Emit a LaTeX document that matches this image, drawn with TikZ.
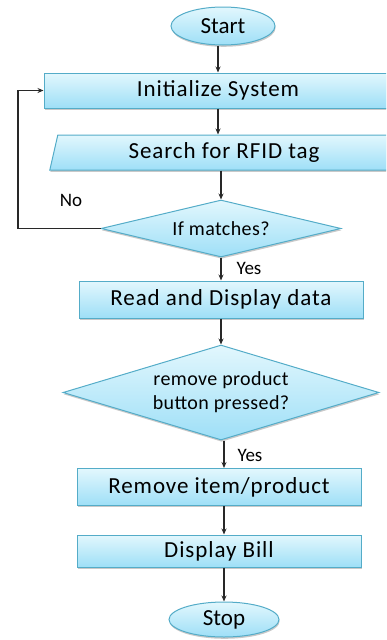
\documentclass[tikz,border=0pt]{standalone}
\usepackage{fontspec}
\setmainfont{Carlito}
\newfontfamily\procfont[LetterSpace=4]{Carlito}
\newfontfamily\decfont[LetterSpace=2]{Carlito}
\usetikzlibrary{shapes.geometric,arrows.meta,shadows,positioning}
\definecolor{boxtop}{RGB}{226,247,253}
\definecolor{boxbot}{RGB}{158,223,247}
\definecolor{boxline}{RGB}{84,172,200}
\definecolor{arrline}{RGB}{40,40,40}
\tikzset{
  flow/.style={draw=boxline,line width=1pt,top color=boxtop,bottom color=boxbot,
    drop shadow={shadow xshift=0.6pt,shadow yshift=-1.8pt,opacity=0.3,fill=black!70}},
  procbox/.style={flow,rectangle,minimum width=284pt,inner sep=0pt,font=\procfont\fontsize{23}{27}\selectfont},
  iobox/.style={flow,trapezium,trapezium left angle=77,trapezium right angle=103,
    trapezium stretches=true,inner sep=0pt,font=\procfont\fontsize{23}{27}\selectfont},
  termbox/.style={flow,ellipse,inner sep=0pt,font=\fontsize{23}{27}\selectfont},
  decbox/.style={flow,diamond,inner sep=0pt,align=center,font=\decfont\fontsize{20}{24}\selectfont},
  arr/.style={draw=arrline,line width=1.2pt,-{Stealth[length=6pt,width=5pt]}},
  lbl/.style={inner sep=0pt,font=\fontsize{19}{22}\selectfont}
}
\begin{document}
\begin{tikzpicture}[x=1pt,y=-1pt]
\useasboundingbox (0,0) rectangle (386,640);
\clip (0,0) rectangle (386,640);
\node[termbox,minimum width=104pt,minimum height=38pt] (start) at (223,26) {Start};
\node[procbox,minimum width=348pt,minimum height=35pt] (init) at (218,90.5) {Initialize System};
\node[iobox,minimum width=349pt,minimum height=35pt] (search) at (224,152.5) {Search for RFID tag};
\node[decbox,aspect=4.2,minimum width=240pt,minimum height=57pt] (match) at (221,228.5) {If matches?};
\node[procbox,minimum height=37pt] (read) at (221,299.5) {Read and Display data};
\node[decbox,aspect=3.3,minimum width=316pt,minimum height=95pt] (press) at (221,392.5) {remove product\\button pressed?};
\node[procbox,minimum height=37pt] (remove) at (219,487) {Remove item/product};
\node[procbox,minimum height=32pt] (bill) at (219,551) {Display Bill};
\node[termbox,minimum width=110pt,minimum height=35pt] (stop) at (224,619.5) {Stop};
\coordinate (loopx) at (18,0);

\node[lbl] (no) at (71,200) {No};
\node[lbl] (yes1) at (249,268) {Yes};
\node[lbl] (yes2) at (250,455) {Yes};

\draw[arr] (start.south -| init) -- (init.north);
\draw[arr] (init.south) -- (search.north -| init);
\draw[arr] (search.south -| match) -- (match.north);
\draw[arr] (match.south) -- (read.north -| match);
\draw[arr] (read.south -| press) -- (press.north);
\draw[arr] (press.south -| stop) -- (remove.north -| stop);
\draw[arr] (remove.south -| stop) -- (bill.north -| stop);
\draw[arr] (bill.south -| stop) -- (stop.north);
\draw[arr] (match.west) -- (loopx |- match.west) |- (init.west);

\end{tikzpicture}
\end{document}
